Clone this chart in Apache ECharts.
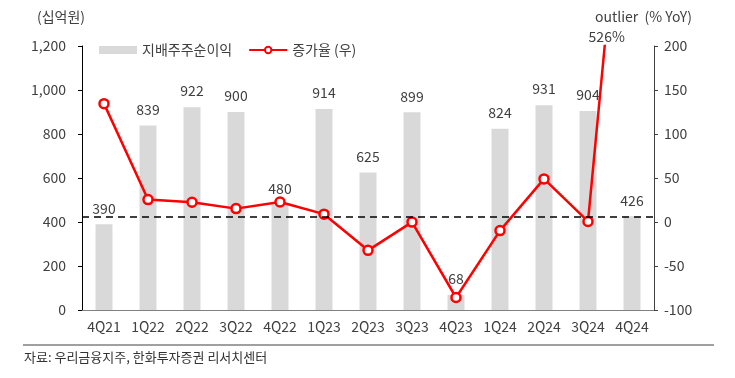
<!DOCTYPE html>
<html>
<head>
<meta charset="utf-8">
<script src="https://cdn.jsdelivr.net/npm/echarts@6/dist/echarts.min.js"></script>
<style>
    html, body { margin: 0; padding: 0; background: #fff; }
    #chart { width: 735px; height: 378px; }
</style>
</head>
<body>
<div id="chart"></div>
<script>
const categories = ['4Q21', '1Q22', '2Q22', '3Q22', '4Q22', '1Q23', '2Q23', '3Q23', '4Q23', '1Q24', '2Q24', '3Q24', '4Q24'];
const netIncome = [390, 839, 922, 900, 480, 914, 625, 899, 68, 824, 931, 904, 426];
const growthYoY = [134.5, 25.5, 22.4, 15.2, 22.7, 8.9, -32.2, -0.1, -85.8, -9.8, 49.0, 0.6, 526];
const leftTicks = [0, 1200, 200];
const rightTicks = [-100, 200, 50];
const refLevel = 426;

const FONT = '"Noto Sans CJK KR", "Noto Sans", sans-serif';
const TXT = '#404040';

const chart = echarts.init(document.getElementById('chart'));

chart.setOption({
    animation: false,
    textStyle: { fontFamily: FONT },
    grid: { left: 82, right: 81, top: 46, bottom: 68 },
    legend: {
        left: 94,
        top: 38,
        itemGap: 16,
        itemWidth: 38,
        itemHeight: 8,
        textStyle: { fontSize: 14, color: TXT, fontFamily: FONT },
        data: [
            { name: '지배주주순이익', icon: 'rect', itemStyle: { color: '#d9d9d9' } },
            { name: '증가율 (우)' }
        ]
    },
    xAxis: {
        type: 'category',
        data: categories,
        axisLine: { lineStyle: { color: '#808080', width: 1 } },
        axisTick: { lineStyle: { color: '#808080' }, length: 4 },
        axisLabel: { color: TXT, fontSize: 14, margin: 10, interval: 0 }
    },
    yAxis: [
        {
            type: 'value',
            min: leftTicks[0],
            max: leftTicks[1],
            interval: leftTicks[2],
            splitLine: { show: false },
            axisLine: { show: true, lineStyle: { color: '#000', width: 1 } },
            axisTick: { show: true, length: 4, lineStyle: { color: '#000' } },
            axisLabel: {
                color: TXT, fontSize: 14, margin: 16,
                formatter: v => v.toLocaleString('en-US')
            }
        },
        {
            type: 'value',
            min: rightTicks[0],
            max: rightTicks[1],
            interval: rightTicks[2],
            splitLine: { show: false },
            axisLine: { show: true, lineStyle: { color: '#404040', width: 1 } },
            axisTick: { show: true, length: 4, lineStyle: { color: '#404040' } },
            axisLabel: { color: TXT, fontSize: 14, margin: 10 }
        }
    ],
    series: [
        {
            name: '지배주주순이익',
            type: 'bar',
            data: netIncome,
            barWidth: 17,
            itemStyle: { color: '#d9d9d9' },
            label: {
                show: true,
                position: 'top',
                distance: 9,
                color: TXT,
                fontSize: 14
            },
            markLine: {
                silent: true,
                symbol: 'none',
                label: { show: false },
                lineStyle: { color: '#000', type: [7, 5], width: 1.5 },
                data: [{ yAxis: refLevel }]
            },
            z: 1
        },
        {
            name: '증가율 (우)',
            type: 'line',
            yAxisIndex: 1,
            data: growthYoY,
            clip: true,
            symbol: 'circle',
            symbolSize: 9,
            lineStyle: { color: '#ff0000', width: 2.5 },
            itemStyle: { color: '#fff', borderColor: '#ff0000', borderWidth: 2.5 },
            z: 3
        }
    ]
});

// outlier annotation at the point where the line leaves the plot
const last = categories.length - 1;
const xa = chart.convertToPixel({ xAxisIndex: 0 }, categories[last - 1]);
const xb = chart.convertToPixel({ xAxisIndex: 0 }, categories[last]);
const ya = chart.convertToPixel({ yAxisIndex: 1 }, growthYoY[last - 1]);
const yb = chart.convertToPixel({ yAxisIndex: 1 }, growthYoY[last]);
const yTop = chart.convertToPixel({ yAxisIndex: 1 }, rightTicks[1]);
const t = (ya - yTop) / (ya - yb);
const xCross = xa + (xb - xa) * t;

chart.setOption({
    graphic: [
        {
            type: 'text', left: 37, top: 10,
            style: { text: '(십억원)', fill: TXT, font: '14px ' + FONT }
        },
        {
            type: 'text', right: 43, top: 10,
            style: { text: 'outlier  (% YoY)', fill: TXT, font: '14px ' + FONT }
        },
        {
            type: 'text', x: xCross + 2, y: yTop - 2,
            style: {
                text: growthYoY[last] + '%', fill: TXT, font: '14px ' + FONT,
                align: 'center', verticalAlign: 'bottom'
            }
        },
        {
            type: 'line',
            shape: { x1: 23, y1: 345, x2: 714, y2: 345 },
            style: { stroke: '#808080', lineWidth: 1.5 }
        },
        {
            type: 'text', left: 24, top: 351,
            style: { text: '자료: 우리금융지주, 한화투자증권 리서치센터', fill: '#333', font: '13px ' + FONT }
        }
    ]
});
</script>
</body>
</html>
